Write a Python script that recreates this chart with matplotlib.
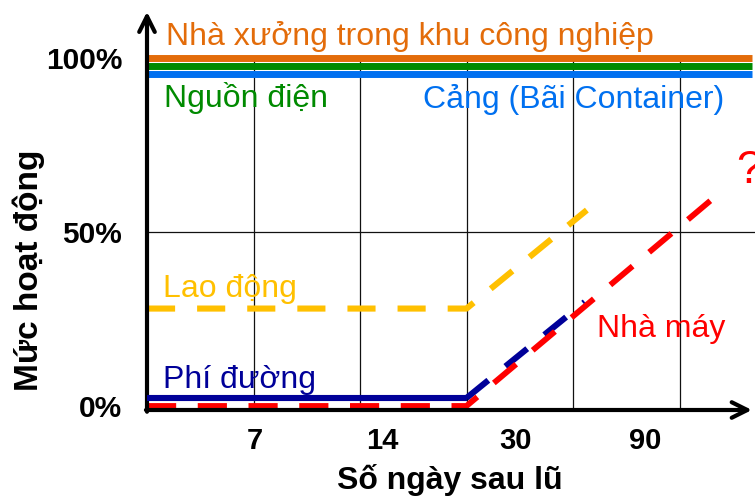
import matplotlib
matplotlib.use('Agg')
import matplotlib.pyplot as plt

plt.rcParams['font.family'] = ['Liberation Sans', 'DejaVu Sans']

# data (x in grid units, one column per gridline; y in %)
x_label_pos = [1.01, 2.21, 3.46, 4.68]
x_labels = ['7', '14', '30', '90']
y_ticks = [0, 50, 100]
y_labels = ['0%', '50%', '100%']
grid_x = [1, 2, 3, 4, 5]

top_levels = [100, 97.7, 95.4]          # nhà xưởng, nguồn điện, cảng
top_colors = ['#E36C0A', '#008A00', '#0070F0']

labor_x = [0, 3, 4.13]
labor_y = [28, 28, 56.3]
road_flat_x = [0, 3]
road_flat_y = [2.3, 2.3]
road_rise_x = [3, 4.11]
road_rise_y = [2.3, 29.9]
factory_x = [0, 3, 5.29]
factory_y = [0, 0, 59]

W, H = 755, 501
x0px, xs = 147, 106.5
y0px, ys = 406, 3.48
ylo = -(410 - y0px) / ys
yhi = (y0px - 10) / ys
xhi = (W - x0px) / xs

fig = plt.figure(figsize=(W / 100, H / 100), dpi=100)
ax = fig.add_axes([x0px / W, (H - 410) / H, (W - x0px) / W, 400 / H])
ax.set_xlim(0, xhi)
ax.set_ylim(ylo, yhi)
for s in ax.spines.values():
    s.set_visible(False)

ax.set_xticks(x_label_pos, x_labels, fontsize=21, fontweight='bold')
ax.set_yticks(y_ticks, y_labels, fontsize=21.5, fontweight='bold')
ax.tick_params(axis='x', length=0, pad=12)
ax.tick_params(axis='y', length=0, pad=18)

# grid
ax.vlines(grid_x, ylo, 100, colors='#111111', lw=0.9, zorder=1)
ax.hlines(50, 0, xhi, colors='#111111', lw=0.9, zorder=1)

# top solid lines
for lvl, c in zip(top_levels, top_colors):
    ax.plot([0, 5.68], [lvl, lvl], color=c, lw=5, solid_capstyle='butt', zorder=3)

ax.plot(factory_x, factory_y, color='#FF0000', lw=4.2, dashes=(5, 3.7), zorder=3)
ax.plot(labor_x, labor_y, color='#FFC000', lw=4.4, dashes=(4.6, 3.6), zorder=3)
ax.plot(road_flat_x, road_flat_y, color='#000099', lw=4.4, solid_capstyle='butt', zorder=4)
ax.plot(road_rise_x, road_rise_y, color='#000099', lw=4.4, dashes=(4.6, 3.6), zorder=2)

# axes arrows
arr = dict(arrowstyle='->', lw=3, color='black', mutation_scale=28, shrinkA=0, shrinkB=0)
ax.annotate('', xy=(5.68, ylo), xytext=(-0.01, ylo), arrowprops=arr, annotation_clip=False)
ax.annotate('', xy=(0, 113.3), xytext=(0, ylo - 0.5), arrowprops=arr, annotation_clip=False)

fs = 23
ax.text(0.18, 103.7, 'Nhà xưởng trong khu công nghiệp', color='#E36C0A', fontsize=fs, va='baseline')
ax.text(0.16, 85.9, 'Nguồn điện', color='#008A00', fontsize=fs, va='baseline')
ax.text(2.59, 85.6, 'Cảng (Bãi Container)', color='#0070F0', fontsize=fs, va='baseline')
ax.text(0.15, 31.3, 'Lao động', color='#FFC000', fontsize=fs, va='baseline')
ax.text(0.15, 5.2, 'Phí đường', color='#000099', fontsize=fs, va='baseline')
ax.text(4.23, 19.8, 'Nhà máy', color='#FF0000', fontsize=fs, va='baseline')
ax.text(5.53, 64.1, '?', color='#FF0000', fontsize=33, va='baseline', clip_on=False)

fig.text(29 / W, 1 - 270 / H, 'Mức hoạt động', rotation=90, fontsize=24, fontweight='bold',
         ha='center', va='center')
fig.text(450 / W, 1 - 489 / H, 'Số ngày sau lũ', fontsize=23, fontweight='bold',
         ha='center', va='baseline')

fig.savefig('out.png', dpi=100)
